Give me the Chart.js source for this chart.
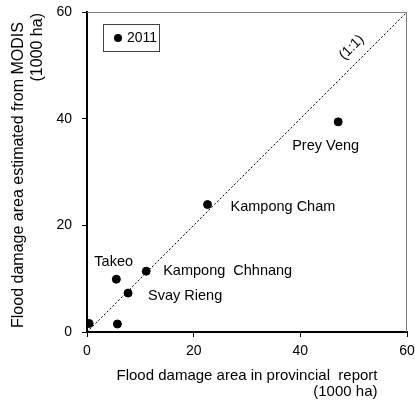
<!DOCTYPE html>
<html>
<head>
<meta charset="utf-8">
<script src="https://cdn.jsdelivr.net/npm/chart.js@4/dist/chart.umd.min.js"></script>
<style>
  html, body { margin: 0; padding: 0; background: #fff; }
  #wrap { width: 415px; height: 405px; }
</style>
</head>
<body>
<div id="wrap"><canvas id="c" width="415" height="405"></canvas></div>
<script>
// Provincial flood damage (1000 ha): provincial report vs. MODIS estimate, 2011
const provinces  = ['', '', 'Takeo', 'Svay Rieng', 'Kampong  Chhnang', 'Kampong Cham', 'Prey Veng'];
const reportArea = [0.4, 5.7, 5.5, 7.7, 11.1, 22.6, 47.1];
const modisArea  = [1.6, 1.5, 9.9, 7.3, 11.4, 23.9, 39.4];
const axisTicks  = [0, 20, 40, 60];
const seriesName = '2011';
const lineEnds   = [0, 60];          // 1:1 reference line
const lineName   = '(1:1)';
const xTitle     = ['Flood damage area in provincial  report', '(1000 ha)'];
const yTitle     = ['Flood damage area estimated from MODIS', '(1000 ha)'];

const FONT = "'Liberation Sans', Arial, sans-serif";

// Text placement of each province name relative to its dot (pixels)
const nameOffsets = {
  'Takeo':            [-22, -17],
  'Svay Rieng':       [20, 3],
  'Kampong  Chhnang': [17, 0],
  'Kampong Cham':     [23, 2],
  'Prey Veng':        [-46, 24]
};

const points = reportArea.map((x, i) => ({ x, y: modisArea[i] }));
const diagonal = lineEnds.map(v => ({ x: v, y: v }));

const decorations = {
  id: 'decorations',
  afterDatasetsDraw(chart) {
    const { ctx, chartArea: a, scales } = chart;
    const sx = scales.x, sy = scales.y;
    ctx.save();

    // thin frame on the top and right sides
    ctx.strokeStyle = '#7f7f7f';
    ctx.lineWidth = 1;
    ctx.beginPath();
    ctx.moveTo(a.left, a.top + 0.5);
    ctx.lineTo(a.right - 0.5, a.top + 0.5);
    ctx.lineTo(a.right - 0.5, a.bottom);
    ctx.stroke();

    // province names
    ctx.fillStyle = '#000';
    ctx.font = '14.5px ' + FONT;
    ctx.textAlign = 'left';
    ctx.textBaseline = 'middle';
    const meta = chart.getDatasetMeta(0);
    provinces.forEach((name, i) => {
      if (!name) return;
      const el = meta.data[i];
      const off = nameOffsets[name] || [8, 0];
      ctx.fillText(name, el.x + off[0], el.y + off[1]);
    });

    // 1:1 label along the diagonal
    const t = 51.5;
    const px = sx.getPixelForValue(t), py = sy.getPixelForValue(t);
    ctx.save();
    ctx.translate(px - 10, py - 10);
    ctx.rotate(-Math.PI / 4);
    ctx.textAlign = 'center';
    ctx.font = '14px ' + FONT;
    ctx.fillText(lineName, 0, 0);
    ctx.restore();

    // legend box
    const lx = a.left + 16, ly = a.top + 12, lw = 56, lh = 27;
    ctx.strokeStyle = '#404040';
    ctx.lineWidth = 1;
    ctx.strokeRect(lx + 0.5, ly + 0.5, lw, lh);
    ctx.beginPath();
    ctx.arc(lx + 15, ly + 14, 4, 0, Math.PI * 2);
    ctx.fill();
    ctx.font = '14px ' + FONT;
    ctx.textAlign = 'left';
    ctx.fillText(seriesName, lx + 24, ly + 14.5);

    // axis titles
    ctx.font = '15px ' + FONT;
    const cx = (a.left + a.right) / 2;
    ctx.textAlign = 'center';
    ctx.fillText(xTitle[0], cx, a.bottom + 44);
    const right1 = cx + ctx.measureText(xTitle[0]).width / 2;
    ctx.textAlign = 'right';
    ctx.fillText(xTitle[1], right1, a.bottom + 60);

    ctx.save();
    ctx.translate(19, (a.top + a.bottom) / 2 + 3);
    ctx.rotate(-Math.PI / 2);
    ctx.font = '16px ' + FONT;
    ctx.textAlign = 'center';
    ctx.fillText(yTitle[0], 0, 0);
    ctx.restore();

    ctx.save();
    ctx.translate(38, a.top + 1);
    ctx.rotate(-Math.PI / 2);
    ctx.font = '16px ' + FONT;
    ctx.textAlign = 'right';
    ctx.fillText(yTitle[1], 0, 0);
    ctx.restore();

    ctx.restore();
  }
};

const axisBase = {
  type: 'linear',
  min: 0,
  max: 60,
  afterBuildTicks(scale) { scale.ticks = axisTicks.map(v => ({ value: v })); },
  grid: { display: true, drawOnChartArea: false, drawTicks: true, tickLength: 5, color: '#000', lineWidth: 1 },
  border: { display: true, color: '#000', width: 2 },
  ticks: { color: '#000', font: { family: FONT, size: 14 } },
  title: { display: false }
};

new Chart(document.getElementById('c'), {
  type: 'scatter',
  data: {
    datasets: [
      {
        label: seriesName,
        data: points,
        backgroundColor: '#000',
        borderColor: '#000',
        pointRadius: 4,
        pointHoverRadius: 4,
        order: 1
      },
      {
        label: lineName,
        type: 'line',
        data: diagonal,
        borderColor: '#000',
        borderWidth: 1,
        borderDash: [2, 2],
        pointRadius: 0,
        fill: false,
        order: 2
      }
    ]
  },
  options: {
    responsive: false,
    animation: false,
    devicePixelRatio: 1,
    layout: { padding: { top: 12, right: 8, left: 0, bottom: 0 } },
    plugins: { legend: { display: false }, tooltip: { enabled: false } },
    scales: {
      x: Object.assign({}, axisBase, {
        position: 'bottom',
        ticks: Object.assign({}, axisBase.ticks, { padding: 6, maxRotation: 0 }),
        afterFit(scale) {
          scale.height = 73;
          scale.paddingLeft = 0;
          scale.paddingRight = 0;
        }
      }),
      y: Object.assign({}, axisBase, {
        position: 'left',
        ticks: Object.assign({}, axisBase.ticks, { padding: 10 }),
        afterFit(scale) {
          scale.width = 87;
          scale.paddingTop = 0;
          scale.paddingBottom = 0;
        }
      })
    }
  },
  plugins: [decorations]
});
</script>
</body>
</html>
